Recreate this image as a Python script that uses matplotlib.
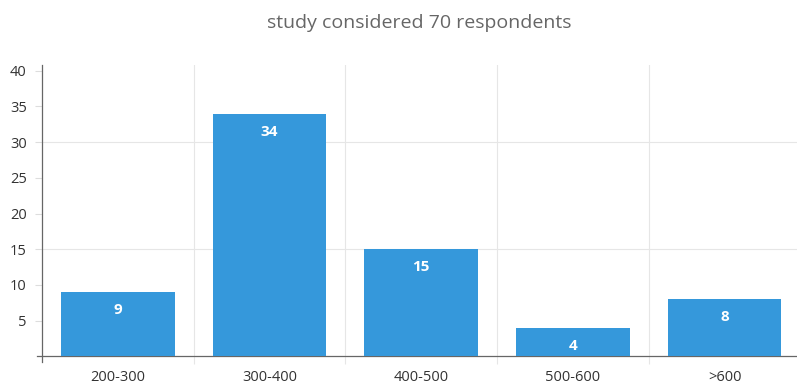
import matplotlib.pyplot as plt
from matplotlib.ticker import FixedLocator

categories = ["200-300", "300-400", "400-500", "500-600", ">600"]
counts = [9, 34, 15, 4, 8]
y_ticks = [5, 10, 15, 20, 25, 30, 35, 40]
grid_levels = [15, 30]

plt.rcParams['font.family'] = ['Open Sans', 'DejaVu Sans']

fig = plt.figure(figsize=(7.97, 3.89), dpi=100)
ax = fig.add_axes([42 / 797, 32.6 / 389, 1 - 42 / 797, (324 - 32.6) / 389])

x = list(range(len(categories)))
ax.bar(x, counts, width=0.75, color="#3598db", zorder=3)

# value labels sit just inside the top of each bar
for xi, v in zip(x, counts):
    ax.annotate(str(v), (xi, v), xytext=(0, -18), textcoords="offset pixels",
                ha="center", va="center", color="white", fontsize=11, fontweight="bold", zorder=4)

ax.set_xlim(-0.5, 4.478)
ax.set_ylim(0, 40.8)

for lvl in grid_levels:
    ax.axhline(lvl, color="#e6e6e6", lw=0.8, zorder=1)

# category boundaries as minor ticks with vertical grid
bounds = [i + 0.5 for i in range(len(categories) - 1)]
ax.xaxis.set_minor_locator(FixedLocator(bounds))
ax.grid(which="minor", axis="x", color="#e6e6e6", lw=0.8, zorder=1)
ax.tick_params(axis="x", which="minor", length=6, color="#e6e6e6", width=0.8)

ax.set_xticks(x)
ax.set_xticklabels(categories)
ax.tick_params(axis="x", which="major", length=0, pad=9.5, labelsize=10.5, labelcolor="#333333")

ax.set_yticks(y_ticks)
ax.tick_params(axis="y", length=5, color="#dddddd", width=0.8, pad=6, labelsize=10.5, labelcolor="#333333")

for side in ["top", "right"]:
    ax.spines[side].set_visible(False)
for side in ["left", "bottom"]:
    ax.spines[side].set_color("#666666")
    ax.spines[side].set_linewidth(0.9)
ax.spines["left"].set_bounds(-0.85, 40.8)
ax.spines["bottom"].set_bounds(-0.5 - 5 / 151.7, 4.478)

ax.set_title("study considered 70 respondents", color="#666666", fontsize=14, pad=27)

fig.savefig("out.png", dpi=100)
